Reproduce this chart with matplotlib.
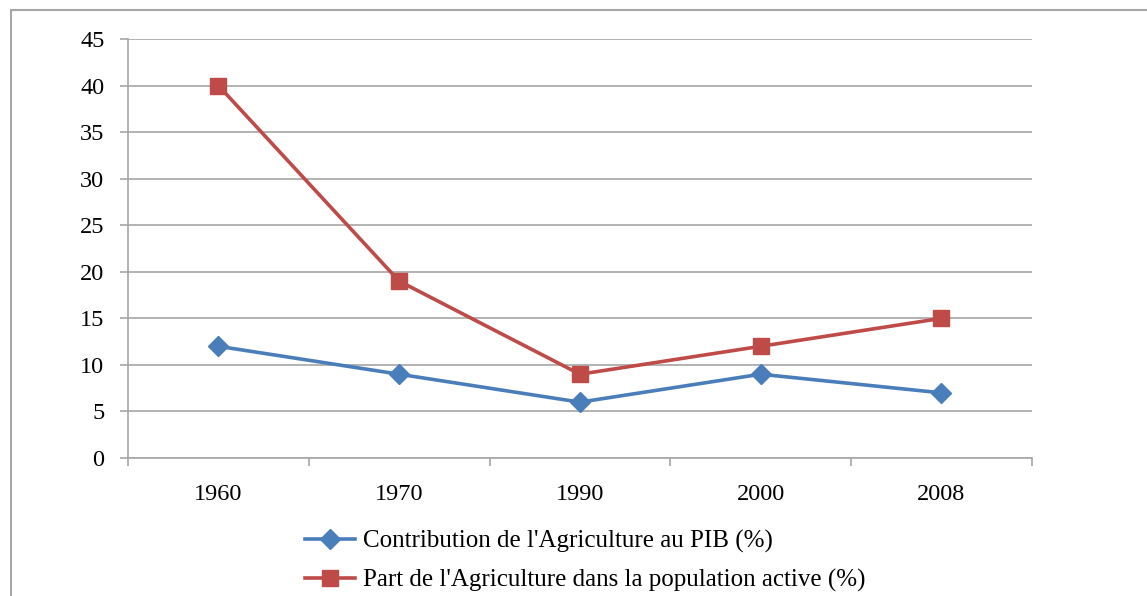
import matplotlib.pyplot as plt
from matplotlib.patches import Rectangle

annees = ['1960', '1970', '1990', '2000', '2008']
pib = [12, 9, 6, 9, 7]
population_active = [40, 19, 9, 12, 15]

nom_pib = "Contribution de l'Agriculture au PIB (%)"
nom_pop = "Part de l'Agriculture dans la population active (%)"

bleu = '#4a7ebb'
rouge = '#be4b48'
gris = '#a6a6a6'

plt.rcParams['font.family'] = ['Liberation Serif', 'DejaVu Serif']

fig = plt.figure(figsize=(11.47, 5.96), dpi=100)
ax = fig.add_axes([0.1116, 0.2315, 0.788, 0.703])

x = list(range(len(annees)))
ax.plot(x, pib, color=bleu, lw=2.6, marker='D', ms=10, label=nom_pib)
ax.plot(x, population_active, color=rouge, lw=2.6, marker='s', ms=12, label=nom_pop)

ax.set_xlim(-0.5, len(annees) - 0.5)
ax.set_ylim(0, 45)
ax.set_yticks(range(0, 46, 5))
ax.yaxis.grid(True, color=gris, lw=1.2)
ax.set_axisbelow(True)

# graduations aux limites des catégories, étiquettes au centre
ax.set_xticks([i - 0.5 for i in range(len(annees) + 1)])
ax.set_xticklabels([])
ax.set_xticks(x, minor=True)
ax.set_xticklabels(annees, minor=True)
ax.tick_params(axis='x', which='major', length=6, color=gris, width=1.2)
ax.tick_params(axis='x', which='minor', length=0, pad=19, labelsize=17.5)
ax.tick_params(axis='y', length=6, color=gris, width=1.2, pad=11, labelsize=17.5)

for s in ['top', 'right']:
    ax.spines[s].set_visible(False)
for s in ['left', 'bottom']:
    ax.spines[s].set_color(gris)
    ax.spines[s].set_linewidth(1.2)

fig.legend(loc='upper left', bbox_to_anchor=(0.266, 0.111), frameon=False,
           fontsize=18, handlelength=2.0, handletextpad=0.3, labelspacing=0.65,
           borderaxespad=0, borderpad=0)

# cadre du graphique
fig.patches.append(Rectangle((11 / 1147, -0.1), 1.2, 0.1 + 586 / 596,
                             transform=fig.transFigure, fill=False,
                             edgecolor=gris, lw=1.5))

fig.savefig('out.png', dpi=100)
